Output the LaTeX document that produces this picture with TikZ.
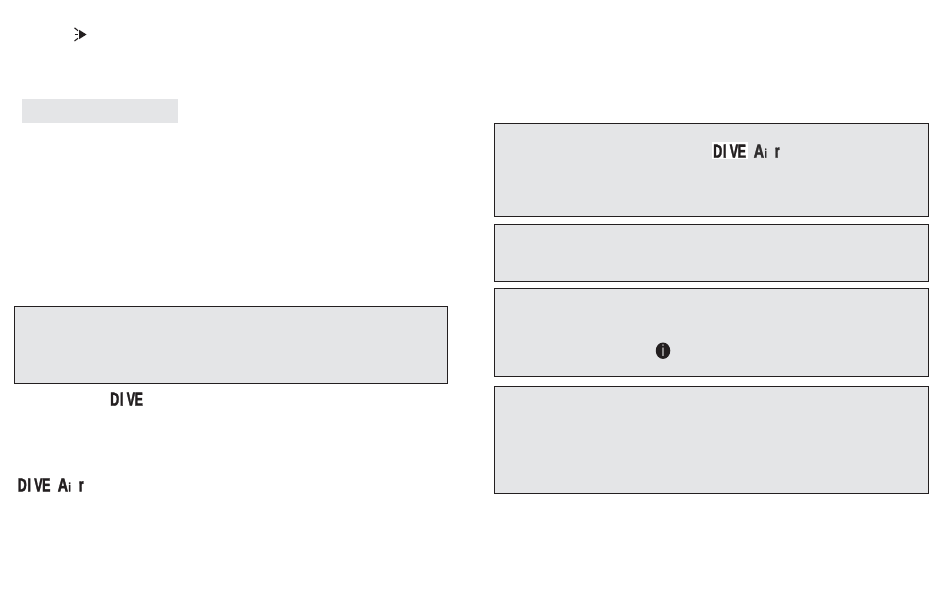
\documentclass[tikz,border=0pt]{standalone}
\usepackage{fontspec}
\newfontfamily\lcdfont[FakeStretch=0.66,BoldFeatures={FakeBold=1.6}]{Liberation Sans}
\newfontfamily\dotfont[FakeStretch=0.7]{Liberation Sans}
\definecolor{panel}{HTML}{E4E5E7}
\definecolor{ink}{HTML}{231F20}
\definecolor{lcdgray}{HTML}{2E2C2D}
\def\nbox{\draw[fill=panel,draw=ink,line width=1.1pt]}
\def\lcddive{D\kern0.8pt I\kern3.2pt V\kern-0.5pt E}
\def\lcdair{\scalebox{1.15}[1]{A}\kern0.4pt\scalebox{0.65}{i}\kern8pt r}
\tikzset{
  lcd/.style={inner sep=0pt,anchor=base west,text=ink,font=\lcdfont\bfseries\fontsize{19}{19}\selectfont},
  infodot/.style={ellipse,fill=ink,text=white,inner sep=0pt,minimum width=14.5pt,minimum height=16pt,font=\dotfont\fontsize{16}{16}\selectfont}
}
\usetikzlibrary{shapes.geometric}
\begin{document}
\begin{tikzpicture}[x=1pt,y=-1pt]
  \useasboundingbox (0,0) rectangle (950,595);
  % pointer mark, top left
  \fill[ink] (79,29.8) -- (86.5,34.5) -- (79,39.2) -- cycle;
  \draw[ink,line width=1.1pt] (74.5,27.8) -- (78,30.7);
  \draw[ink,line width=1.1pt] (74.5,34.5) -- (78,34.5);
  \draw[ink,line width=1.1pt] (74.5,41) -- (78,38.3);
  % heading band
  \fill[panel] (22,98.7) rectangle (177.7,123);
  % left column
  \nbox (14.3,306.3) rectangle (447.5,383.3);
  \node[lcd] (diveone) at (110,405.7) {\lcddive};
  \node[lcd] (divetwo) at (17.5,491.5) {\lcddive};
  \node[lcd] (airtwo) at (57.5,491.5) {\lcdair};
  % right column
  \nbox (494.3,123.7) rectangle (928.3,216.3);
  \nbox (494.3,224.3) rectangle (928.3,281.3);
  \nbox (494.3,288.3) rectangle (928.3,376.3);
  \nbox (494.3,386.3) rectangle (928.3,493.3);
  \fill[white] (712,142) rectangle (748,159.3);
  \node[lcd] (divethree) at (713,157.7) {\lcddive};
  \node[lcd,text=lcdgray] (airthree) at (753.5,157.7) {\lcdair};
  \node[infodot] (info) at (663,350.7) {i};
\end{tikzpicture}
\end{document}
